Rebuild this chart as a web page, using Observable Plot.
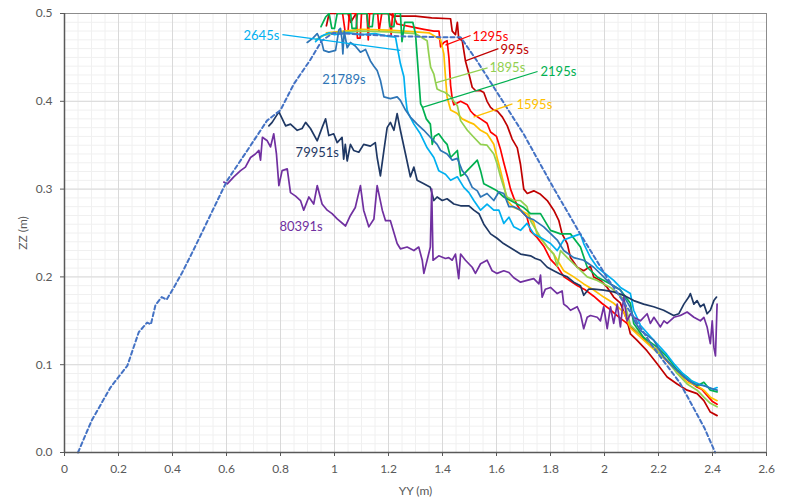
<!DOCTYPE html>
<html>
<head>
<meta charset="utf-8">
<script src="https://cdn.jsdelivr.net/npm/d3@7"></script>
<script src="https://cdn.jsdelivr.net/npm/@observablehq/plot@0.6"></script>
<style>
  html, body { margin: 0; padding: 0; background: #fff; }
  #chart { width: 786px; height: 500px; }
</style>
</head>
<body>
<div id="chart"></div>
<script>
// ---- data (YY, ZZ in metres) ----
const profile = [[0.05,0.0],[0.10,0.036],[0.17,0.074],[0.233,0.099],[0.275,0.137],[0.306,0.148],[0.32,0.146],[0.337,0.168],[0.36,0.177],[0.378,0.174],[0.405,0.188],[0.436,0.205],[0.48,0.232],[0.59,0.302],[0.603,0.31],[0.677,0.344],[0.75,0.378],[0.80,0.39],[0.85,0.42],[0.91,0.447],[0.953,0.469],[0.996,0.478],[1.1,0.476],[1.25,0.474],[1.4,0.473],[1.467,0.473],[1.53,0.445],[1.59,0.416],[1.70,0.363],[1.81,0.302],[1.91,0.249],[2.01,0.199],[2.10,0.158],[2.18,0.12],[2.28,0.079],[2.37,0.028],[2.41,0.0]];

const s995 = [[0.97,0.486],[0.98,0.5],[1.05,0.5],[1.06,0.49],[1.08,0.5],[1.2,0.5],[1.22,0.497],[1.3,0.497],[1.36,0.495],[1.43,0.494],[1.436,0.480],[1.448,0.476],[1.455,0.490],[1.46,0.472],[1.473,0.469],[1.485,0.446],[1.498,0.431],[1.510,0.416],[1.523,0.412],[1.541,0.412],[1.553,0.410],[1.565,0.400],[1.578,0.393],[1.59,0.39],[1.603,0.389],[1.622,0.382],[1.64,0.372],[1.658,0.357],[1.677,0.347],[1.689,0.328],[1.701,0.300],[1.714,0.295],[1.738,0.298],[1.763,0.294],[1.788,0.287],[1.812,0.276],[1.831,0.264],[1.843,0.249],[1.862,0.238],[1.874,0.222],[1.899,0.211],[1.923,0.207],[1.948,0.212],[1.960,0.200],[1.985,0.196],[2.010,0.188],[2.034,0.177],[2.059,0.170],[2.084,0.150],[2.096,0.135],[2.120,0.128],[2.157,0.116],[2.195,0.101],[2.232,0.086],[2.269,0.078],[2.306,0.071],[2.343,0.067],[2.368,0.059],[2.392,0.046],[2.417,0.042]];

const s1295 = [[1.03,0.5],[1.04,0.478],[1.05,0.478],[1.055,0.5],[1.08,0.5],[1.085,0.472],[1.095,0.472],[1.10,0.5],[1.12,0.5],[1.125,0.47],[1.13,0.5],[1.16,0.5],[1.165,0.48],[1.175,0.5],[1.20,0.5],[1.21,0.476],[1.215,0.5],[1.232,0.488],[1.281,0.485],[1.331,0.482],[1.368,0.480],[1.387,0.480],[1.393,0.462],[1.405,0.467],[1.417,0.469],[1.424,0.449],[1.430,0.418],[1.436,0.403],[1.442,0.396],[1.467,0.400],[1.492,0.396],[1.504,0.389],[1.516,0.385],[1.541,0.380],[1.565,0.375],[1.578,0.365],[1.60,0.36],[1.615,0.345],[1.627,0.33],[1.640,0.315],[1.652,0.30],[1.664,0.29],[1.676,0.282],[1.689,0.276],[1.713,0.268],[1.726,0.252],[1.75,0.245],[1.775,0.235],[1.80,0.22],[1.825,0.212],[1.85,0.2],[1.875,0.195],[1.90,0.19],[1.93,0.185],[1.96,0.178],[1.99,0.17],[2.02,0.163],[2.05,0.155],[2.08,0.148],[2.10,0.142],[2.13,0.135],[2.16,0.125],[2.19,0.118],[2.22,0.108],[2.25,0.098],[2.28,0.09],[2.31,0.082],[2.34,0.075],[2.36,0.072],[2.38,0.065],[2.40,0.058],[2.417,0.055]];

const s1595 = [[0.97,0.478],[1.1,0.482],[1.2,0.481],[1.3,0.479],[1.35,0.478],[1.393,0.470],[1.405,0.454],[1.411,0.428],[1.417,0.405],[1.430,0.390],[1.455,0.386],[1.473,0.380],[1.50,0.376],[1.516,0.374],[1.541,0.367],[1.565,0.363],[1.590,0.351],[1.602,0.336],[1.615,0.321],[1.627,0.306],[1.639,0.287],[1.664,0.279],[1.689,0.276],[1.713,0.272],[1.738,0.262],[1.750,0.249],[1.788,0.234],[1.812,0.226],[1.849,0.207],[1.886,0.200],[1.923,0.192],[1.960,0.185],[1.997,0.177],[2.034,0.170],[2.071,0.160],[2.096,0.142],[2.145,0.128],[2.195,0.114],[2.232,0.105],[2.269,0.092],[2.306,0.080],[2.343,0.076],[2.368,0.071],[2.392,0.063],[2.417,0.059]];

const s1895 = [[0.93,0.47],[0.96,0.475],[1.0,0.478],[1.1,0.48],[1.2,0.479],[1.3,0.477],[1.343,0.469],[1.349,0.454],[1.356,0.439],[1.368,0.431],[1.374,0.422],[1.380,0.414],[1.393,0.412],[1.41,0.41],[1.43,0.405],[1.455,0.395],[1.467,0.378],[1.492,0.367],[1.516,0.359],[1.541,0.351],[1.565,0.350],[1.590,0.340],[1.602,0.329],[1.615,0.314],[1.627,0.302],[1.639,0.291],[1.664,0.287],[1.689,0.287],[1.713,0.280],[1.726,0.264],[1.763,0.245],[1.788,0.234],[1.812,0.226],[1.825,0.212],[1.837,0.230],[1.862,0.222],[1.899,0.211],[1.936,0.200],[1.973,0.196],[2.022,0.188],[2.071,0.175],[2.096,0.145],[2.145,0.131],[2.195,0.116],[2.232,0.105],[2.269,0.090],[2.306,0.078],[2.343,0.071],[2.368,0.063],[2.392,0.056],[2.417,0.052]];

const s2195 = [[0.95,0.485],[0.967,0.496],[0.98,0.5],[0.99,0.483],[1.0,0.483],[1.01,0.5],[1.06,0.5],[1.065,0.483],[1.08,0.483],[1.085,0.5],[1.12,0.5],[1.125,0.485],[1.14,0.485],[1.145,0.5],[1.2,0.5],[1.205,0.485],[1.22,0.485],[1.225,0.5],[1.244,0.5],[1.25,0.468],[1.26,0.49],[1.29,0.49],[1.30,0.477],[1.31,0.435],[1.319,0.397],[1.326,0.393],[1.34,0.38],[1.355,0.374],[1.362,0.351],[1.37,0.36],[1.386,0.363],[1.405,0.355],[1.417,0.351],[1.430,0.336],[1.455,0.344],[1.467,0.315],[1.479,0.317],[1.504,0.325],[1.529,0.333],[1.541,0.321],[1.553,0.306],[1.578,0.302],[1.602,0.298],[1.627,0.291],[1.652,0.287],[1.676,0.283],[1.701,0.279],[1.726,0.272],[1.763,0.272],[1.800,0.253],[1.837,0.249],[1.874,0.249],[1.911,0.234],[1.936,0.211],[1.973,0.200],[2.022,0.192],[2.059,0.185],[2.096,0.170],[2.108,0.147],[2.145,0.131],[2.195,0.120],[2.232,0.109],[2.269,0.094],[2.306,0.086],[2.343,0.076],[2.368,0.080],[2.392,0.071],[2.417,0.069]];

const s2645 = [[0.93,0.468],[0.95,0.474],[0.98,0.478],[1.0,0.476],[1.05,0.478],[1.1,0.476],[1.15,0.477],[1.2,0.474],[1.226,0.473],[1.233,0.461],[1.244,0.443],[1.257,0.428],[1.263,0.405],[1.269,0.390],[1.275,0.385],[1.294,0.374],[1.318,0.363],[1.343,0.347],[1.368,0.336],[1.386,0.321],[1.411,0.317],[1.430,0.310],[1.455,0.314],[1.479,0.302],[1.498,0.296],[1.516,0.287],[1.541,0.276],[1.565,0.283],[1.590,0.276],[1.609,0.276],[1.627,0.261],[1.646,0.268],[1.664,0.257],[1.689,0.253],[1.713,0.261],[1.738,0.249],[1.763,0.245],[1.80,0.238],[1.825,0.230],[1.849,0.242],[1.874,0.245],[1.911,0.249],[1.923,0.238],[1.948,0.222],[1.973,0.211],[1.997,0.205],[2.034,0.196],[2.059,0.188],[2.096,0.181],[2.108,0.162],[2.133,0.145],[2.17,0.132],[2.2,0.122],[2.23,0.112],[2.26,0.1],[2.29,0.09],[2.32,0.082],[2.35,0.078],[2.38,0.075],[2.40,0.072],[2.417,0.074]];

const s21789 = [[0.899,0.467],[0.92,0.472],[0.936,0.477],[0.954,0.466],[0.960,0.458],[0.979,0.456],[1.004,0.458],[1.016,0.481],[1.022,0.483],[1.028,0.470],[1.031,0.454],[1.036,0.480],[1.047,0.461],[1.059,0.467],[1.077,0.463],[1.096,0.456],[1.115,0.459],[1.133,0.446],[1.146,0.440],[1.158,0.435],[1.170,0.424],[1.183,0.405],[1.207,0.403],[1.232,0.405],[1.244,0.401],[1.263,0.390],[1.281,0.382],[1.306,0.374],[1.331,0.367],[1.355,0.359],[1.380,0.351],[1.393,0.344],[1.417,0.340],[1.436,0.333],[1.455,0.335],[1.473,0.321],[1.492,0.314],[1.510,0.302],[1.529,0.298],[1.541,0.291],[1.565,0.295],[1.590,0.287],[1.609,0.297],[1.627,0.295],[1.646,0.280],[1.664,0.280],[1.689,0.276],[1.713,0.268],[1.738,0.265],[1.775,0.257],[1.825,0.242],[1.849,0.230],[1.886,0.222],[1.923,0.219],[1.960,0.211],[1.997,0.200],[2.022,0.192],[2.059,0.185],[2.096,0.165],[2.11,0.150],[2.133,0.139],[2.182,0.128],[2.219,0.109],[2.256,0.097],[2.294,0.086],[2.331,0.078],[2.368,0.076],[2.405,0.072],[2.417,0.071]];

const s79951 = [[0.757,0.372],[0.769,0.376],[0.794,0.388],[0.819,0.372],[0.837,0.374],[0.862,0.367],[0.880,0.369],[0.893,0.376],[0.911,0.369],[0.936,0.355],[0.954,0.370],[0.967,0.380],[0.979,0.361],[0.997,0.363],[1.010,0.353],[1.028,0.359],[1.034,0.334],[1.040,0.351],[1.047,0.332],[1.059,0.351],[1.071,0.344],[1.090,0.342],[1.108,0.351],[1.133,0.349],[1.151,0.353],[1.158,0.336],[1.170,0.315],[1.183,0.344],[1.195,0.370],[1.207,0.376],[1.220,0.367],[1.232,0.386],[1.244,0.367],[1.263,0.340],[1.281,0.314],[1.294,0.325],[1.306,0.310],[1.331,0.306],[1.355,0.302],[1.368,0.287],[1.380,0.291],[1.399,0.287],[1.417,0.289],[1.442,0.283],[1.467,0.281],[1.498,0.281],[1.516,0.276],[1.535,0.272],[1.553,0.260],[1.578,0.249],[1.602,0.244],[1.626,0.238],[1.689,0.226],[1.726,0.224],[1.744,0.221],[1.763,0.219],[1.788,0.211],[1.812,0.207],[1.837,0.203],[1.862,0.200],[1.886,0.194],[1.911,0.190],[1.923,0.179],[1.941,0.186],[1.960,0.186],[1.997,0.185],[2.034,0.183],[2.071,0.179],[2.108,0.173],[2.145,0.169],[2.182,0.166],[2.219,0.162],[2.256,0.156],[2.275,0.158],[2.294,0.169],[2.312,0.177],[2.318,0.181],[2.331,0.169],[2.343,0.173],[2.355,0.166],[2.368,0.169],[2.380,0.158],[2.392,0.162],[2.405,0.173],[2.415,0.177]];

const s80391 = [[0.590,0.308],[0.603,0.306],[0.627,0.314],[0.652,0.321],[0.670,0.325],[0.689,0.336],[0.707,0.340],[0.720,0.344],[0.726,0.333],[0.733,0.359],[0.751,0.355],[0.763,0.348],[0.775,0.363],[0.785,0.340],[0.794,0.304],[0.806,0.321],[0.825,0.323],[0.837,0.296],[0.856,0.292],[0.874,0.287],[0.886,0.276],[0.905,0.291],[0.923,0.283],[0.936,0.304],[0.954,0.283],[0.973,0.276],[0.991,0.272],[1.010,0.266],[1.041,0.258],[1.059,0.270],[1.077,0.279],[1.096,0.304],[1.108,0.276],[1.127,0.257],[1.146,0.266],[1.158,0.304],[1.177,0.276],[1.189,0.264],[1.207,0.264],[1.232,0.238],[1.244,0.232],[1.269,0.234],[1.294,0.230],[1.312,0.234],[1.325,0.219],[1.331,0.204],[1.343,0.219],[1.355,0.234],[1.360,0.300],[1.365,0.219],[1.386,0.224],[1.411,0.221],[1.423,0.222],[1.436,0.219],[1.448,0.226],[1.460,0.198],[1.467,0.226],[1.485,0.219],[1.510,0.211],[1.522,0.204],[1.541,0.215],[1.565,0.219],[1.584,0.207],[1.602,0.204],[1.627,0.207],[1.646,0.205],[1.664,0.199],[1.689,0.194],[1.713,0.196],[1.738,0.198],[1.757,0.192],[1.763,0.202],[1.769,0.177],[1.781,0.186],[1.800,0.188],[1.825,0.181],[1.843,0.184],[1.849,0.169],[1.862,0.166],[1.874,0.162],[1.899,0.166],[1.911,0.158],[1.923,0.141],[1.936,0.154],[1.948,0.156],[1.973,0.154],[1.985,0.150],[1.997,0.166],[2.010,0.141],[2.022,0.166],[2.034,0.147],[2.047,0.169],[2.059,0.143],[2.071,0.177],[2.084,0.150],[2.096,0.158],[2.108,0.154],[2.133,0.150],[2.158,0.158],[2.170,0.147],[2.183,0.154],[2.207,0.143],[2.220,0.150],[2.232,0.147],[2.257,0.154],[2.281,0.156],[2.306,0.160],[2.331,0.154],[2.355,0.150],[2.368,0.154],[2.380,0.143],[2.392,0.124],[2.399,0.150],[2.405,0.120],[2.411,0.110],[2.417,0.169]];

const seriesNames  = ["995s","1295s","1595s","1895s","2195s","2645s","21789s","79951s","80391s"];
const seriesValues = [s995, s1295, s1595, s1895, s2195, s2645, s21789, s79951, s80391];
const seriesColors = ["#C00000","#FF0000","#FFC000","#92D050","#00B050","#00B0F0","#2E75B6","#1F3864","#7030A0"];

// label text anchor and leader line (from label to curve), in data units
const labelText = ["2645s","21789s","79951s","80391s","1295s","995s","1895s","2195s","1595s"];
const labelAt   = [[0.663,0.474],[0.955,0.424],[0.856,0.341],[0.796,0.257],[1.511,0.473],[1.615,0.459],[1.574,0.438],[1.763,0.433],[1.674,0.396]];
const labelColor= ["#00B0F0","#2E75B6","#1F3864","#7030A0","#FF0000","#C00000","#92D050","#00B050","#FFC000"];
const leaders = [
  {c:"#00B0F0", a:[0.807,0.476], b:[1.244,0.458]},
  {c:"#FF0000", a:[1.504,0.475], b:[1.411,0.464]},
  {c:"#C00000", a:[1.607,0.460], b:[1.485,0.446]},
  {c:"#92D050", a:[1.567,0.438], b:[1.374,0.421]},
  {c:"#00B050", a:[1.752,0.434], b:[1.326,0.393]},
  {c:"#FFC000", a:[1.659,0.397], b:[1.515,0.382]}
];

const xTicks = d3.range(0, 2.6001, 0.2);
const yTicks = d3.range(0, 0.5001, 0.1);
const xMinor = d3.range(0, 2.6001, 0.05);
const yMinor = d3.range(0, 0.5001, 0.01);

const lineMarks = seriesValues.map((vals, i) =>
  Plot.line(vals, {x: d => d[0], y: d => d[1], stroke: seriesColors[i], strokeWidth: 1.7, clip: true})
);

const labels = labelText.map((t, i) => ({t, x: labelAt[i][0], y: labelAt[i][1], c: labelColor[i]}));

const chart = Plot.plot({
  width: 786,
  height: 500,
  marginLeft: 64,
  marginRight: 20,
  marginTop: 13,
  marginBottom: 48,
  style: {fontFamily: "Lato, 'Open Sans', sans-serif", fontSize: "12px", color: "#595959", background: "#fff"},
  x: {domain: [0, 2.6]},
  y: {domain: [0, 0.5]},
  marks: [
    Plot.ruleX(xMinor, {stroke: "#f0f0f0", strokeWidth: 1}),
    Plot.ruleY(yMinor, {stroke: "#f0f0f0", strokeWidth: 1}),
    Plot.ruleX(xTicks, {stroke: "#d9d9d9", strokeWidth: 1}),
    Plot.ruleY(yTicks, {stroke: "#d9d9d9", strokeWidth: 1}),
    Plot.frame({stroke: "#8c8c8c"}),
    ...lineMarks,
    Plot.line(profile, {x: d => d[0], y: d => d[1], stroke: "#4472C4", strokeWidth: 2, strokeDasharray: "4,3"}),
    Plot.link(leaders, {x1: d => d.a[0], y1: d => d.a[1], x2: d => d.b[0], y2: d => d.b[1], stroke: d => d.c, strokeWidth: 1.2}),
    Plot.text(labels, {x: "x", y: "y", text: "t", fill: d => d.c, textAnchor: "start", fontSize: 13, fontFamily: "Lato, sans-serif"}),
    Plot.ruleX([0], {stroke: "#595959", strokeWidth: 1.5}),
    Plot.ruleY([0], {stroke: "#595959", strokeWidth: 1.5}),
    Plot.axisX({ticks: xTicks, tickFormat: d3.format("~g"), tickSize: 4, tickPadding: 8, label: "YY (m)", labelAnchor: "center", labelOffset: 42, labelArrow: "none", stroke: "#595959"}),
    Plot.axisY({ticks: yTicks, tickFormat: d3.format(".1f"), tickSize: 4, tickPadding: 8, label: "ZZ (m)", labelAnchor: "center", labelOffset: 46, labelArrow: "none", stroke: "#595959"})
  ]
});
document.getElementById("chart").appendChild(chart);
</script>
</body>
</html>
